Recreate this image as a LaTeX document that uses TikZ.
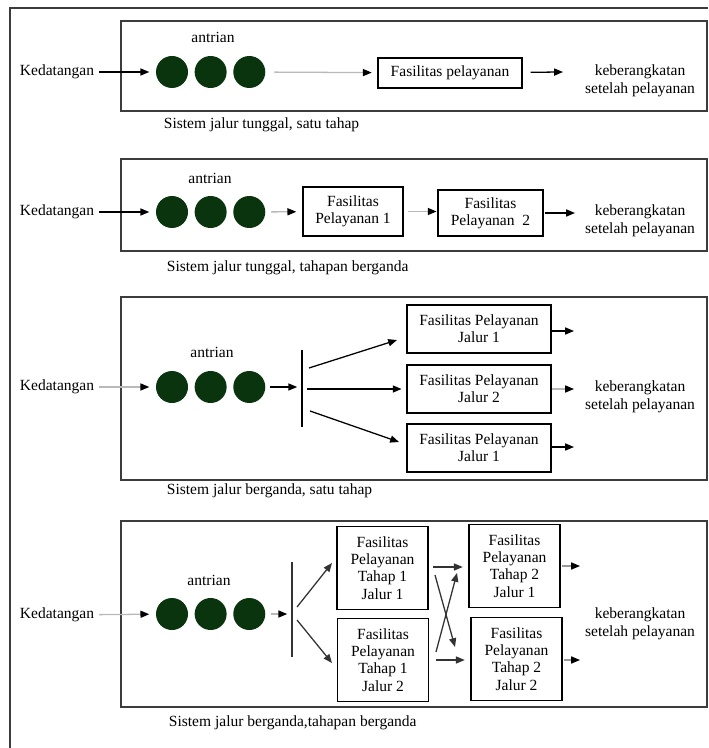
\documentclass[tikz,border=0pt]{standalone}
\usepackage{fontspec}
\setmainfont{Liberation Serif}
\usetikzlibrary{arrows.meta, positioning}
\definecolor{queuegreen}{RGB}{10,52,14}
\definecolor{framegray}{RGB}{60,60,60}

\begin{document}
\begin{tikzpicture}[
    x=0.625pt, y=-0.625pt,
    font=\fontsize{9.7}{11.2}\selectfont,
    >={Triangle[length=5.5pt, width=4.4pt]},
    % Node styles
    cust/.style={circle, fill=queuegreen, minimum size=20pt, inner sep=0pt},
    facility/.style={rectangle, draw=black, line width=0.8pt, align=center,
                     inner sep=1pt, font=\fontsize{9.7}{10.8}\selectfont},
    label/.style={align=center, inner sep=1pt},
    panel/.style={draw=framegray, line width=0.8pt},
    arrow/.style={line width=0.8pt, ->},
    grayarrow/.style={line width=0.8pt, draw=gray!55,
                      -{Triangle[length=5.5pt, width=4.4pt, color=black]}},
    bar/.style={line width=0.8pt}
]
\useasboundingbox (0,0) rectangle (708,748);

% Outer frame
\draw[panel] (10,748) -- (10,8) -- (708,8);

% ---------- Panel 1: single channel, single phase
\draw[panel] (121,21) rectangle (707,111);
\node (kd1) [label] at (57,72) {Kedatangan};
\node (q1a) [cust] at (172,72) {};
\node (q1b) [cust, right=3.75pt of q1a] {};
\node (q1c) [cust, right=3.75pt of q1b] {};
\node (aq1) [label] at (213,37) {antrian};
\node (fas1) [facility, minimum width=90pt, minimum height=18.75pt] at (450,73) {Fasilitas pelayanan};
\coordinate (out1) at (563,72);
\node (dep1) [label] at (640,81) {keberangkatan\\setelah pelayanan};
\node (cap1) [label, anchor=west] at (162,125) {Sistem jalur tunggal, satu tahap};

\draw [arrow, shorten <=2pt, shorten >=4pt] (kd1) -- (q1a);
\draw [grayarrow, shorten <=5.5pt, shorten >=3.5pt] (q1c) -- (fas1);
\draw [arrow, shorten <=5pt] (fas1) -- (out1);

% ---------- Panel 2: single channel, multiple phases
\draw[panel] (121,159) rectangle (707,251);
\node (kd2) [label] at (57,212) {Kedatangan};
\node (q2a) [cust] at (172,212) {};
\node (q2b) [cust, right=3.75pt of q2a] {};
\node (q2c) [cust, right=3.75pt of q2b] {};
\node (aq2) [label] at (210,178) {antrian};
\node (fp1) [facility, minimum width=62.5pt, minimum height=30.6pt] at (353,211.5) {Fasilitas\\Pelayanan 1};
\node (fp2) [facility, minimum width=65.6pt, minimum height=28.75pt] at (490.5,213) {Fasilitas\\Pelayanan\ \ 2};
\coordinate (out2) at (575,213);
\node (dep2) [label] at (640,221) {keberangkatan\\setelah pelayanan};
\node (cap2) [label, anchor=west] at (165,268) {Sistem jalur tunggal, tahapan berganda};

\draw [arrow, shorten <=2pt, shorten >=4pt] (kd2) -- (q2a);
\draw [grayarrow, shorten <=3.5pt, shorten >=3.8pt] (q2c) -- (fp1);
\draw [grayarrow, shorten <=3pt, shorten >=0.5pt] (fp1) -- (fp1 -| fp2.west);
\draw [arrow, shorten <=1pt] (fp2) -- (out2);

% ---------- Panel 3: multiple channels, single phase
\draw[panel] (121,297) rectangle (707,480);
\node (kd3) [label] at (57,387) {Kedatangan};
\node (q3a) [cust] at (172,387) {};
\node (q3b) [cust, right=3.75pt of q3a] {};
\node (q3c) [cust, right=3.75pt of q3b] {};
\node (aq3) [label] at (212,352) {antrian};
\node (fa) [facility, minimum width=90pt, minimum height=30pt] at (479,329) {Fasilitas Pelayanan\\Jalur 1};
\node (fb) [facility, minimum width=90pt, minimum height=30pt] at (479,389) {Fasilitas Pelayanan\\Jalur 2};
\node (fc) [facility, minimum width=90pt, minimum height=30pt] at (479,448) {Fasilitas Pelayanan\\Jalur 1};
\node (dep3) [label] at (640,397) {keberangkatan\\setelah pelayanan};
\node (cap3) [label, anchor=west] at (165,491) {Sistem jalur berganda, satu tahap};

% splitter bar and fan-out points
\coordinate (bar3t) at (302,350);
\coordinate (bar3b) at (302,427);
\coordinate (bar3m) at (302,387);
\coordinate (s3a) at (309,368);
\coordinate (e3a) at (397,340);
\coordinate (s3b) at (307,389);
\coordinate (s3c) at (310,411);
\coordinate (e3c) at (399,442);
\coordinate (oa) at (574,331);
\coordinate (ob) at (574,389);
\coordinate (oc) at (574,447);

\draw [grayarrow, shorten <=2pt, shorten >=4pt] (kd3) -- (q3a);
\draw [arrow, shorten <=3pt, shorten >=3pt] (q3c) -- (bar3m);
\draw [bar] (bar3t) -- (bar3b);
\draw [arrow] (s3a) -- (e3a);
\draw [arrow, shorten >=3pt] (s3b) -- (fb);
\draw [arrow] (s3c) -- (e3c);
\draw [arrow, shorten <=0.5pt] (fa.east |- oa) -- (oa);
\draw [grayarrow, shorten <=0.5pt] (fb.east |- ob) -- (ob);
\draw [arrow, shorten <=0.5pt] (fc.east |- oc) -- (oc);

% ---------- Panel 4: multiple channels, multiple phases
\draw[panel] (121,521) rectangle (707,707);
\node (kd4) [label] at (57,615) {Kedatangan};
\node (q4a) [cust] at (172,614) {};
\node (q4b) [cust, right=3.75pt of q4a] {};
\node (q4c) [cust, right=3.75pt of q4b] {};
\node (aq4) [label] at (209,580) {antrian};
\node (t1a) [facility, minimum width=56.9pt, minimum height=52pt] at (382.5,568) {Fasilitas\\Pelayanan\\Tahap 1\\Jalur 1};
\node (t1b) [facility, minimum width=56.9pt, minimum height=52pt] at (383,660) {Fasilitas\\Pelayanan\\Tahap 1\\Jalur 2};
\node (t2a) [facility, minimum width=56.9pt, minimum height=51.5pt] at (514.5,566) {Fasilitas\\Pelayanan\\Tahap 2\\Jalur 1};
\node (t2b) [facility, minimum width=56.9pt, minimum height=51.5pt] at (516.5,659) {Fasilitas\\Pelayanan\\Tahap 2\\Jalur 2};
\node (dep4) [label] at (640,624) {keberangkatan\\setelah pelayanan};
\node (cap4) [label, anchor=west] at (167,723) {Sistem jalur berganda,tahapan berganda};

% splitter bar, fan-out and crossing points
\coordinate (bar4t) at (292,562);
\coordinate (bar4b) at (292,657);
\coordinate (bar4m) at (292,614);
\coordinate (s4a) at (297,607);
\coordinate (e4a) at (332,563);
\coordinate (s4b) at (297,620);
\coordinate (e4b) at (332,663);
\coordinate (xa) at (435,575);
\coordinate (xb) at (455,647);
\coordinate (xc) at (436,652);
\coordinate (xd) at (457,573);
\coordinate (o4a) at (580,566);
\coordinate (o4b) at (580,660);

\draw [grayarrow, shorten <=2pt, shorten >=4pt] (kd4) -- (q4a);
\draw [grayarrow, shorten <=3.5pt, shorten >=3pt] (q4c) -- (bar4m);
\draw [bar, draw=black!80] (bar4t) -- (bar4b);
\draw [arrow, draw=black!80] (s4a) -- (e4a);
\draw [arrow, draw=black!80] (s4b) -- (e4b);
\draw [arrow, draw=black!80, shorten <=3pt, shorten >=3.5pt] (t1a.east |- 0,567) -- (t2a.west |- 0,567);
\draw [arrow, draw=black!80, shorten <=4pt, shorten >=3.5pt] (t1b.east |- 0,660) -- (t2b.west |- 0,660);
\draw [arrow, draw=black!80] (xa) -- (xb);
\draw [arrow, draw=black!80] (xc) -- (xd);
\draw [grayarrow, draw=gray!80, shorten <=1pt] (t2a.east |- o4a) -- (o4a);
\draw [grayarrow, draw=gray!80, shorten <=1pt] (t2b.east |- o4b) -- (o4b);

\end{tikzpicture}
\end{document}
